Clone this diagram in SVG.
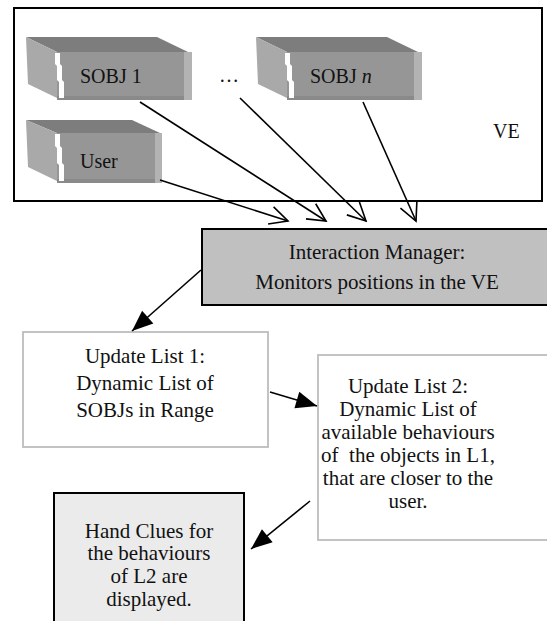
<svg xmlns="http://www.w3.org/2000/svg" width="547" height="621" viewBox="0 0 547 621" font-family="'Liberation Serif', 'DejaVu Serif', serif">
<defs>
<style>
text{font-family:'Liberation Serif','DejaVu Serif',serif;fill:#111;}
.t21{font-size:21px;text-anchor:middle;}
.t20{font-size:20px;}
.top{fill:#7d7d7d;}
.side{fill:#a9a9a9;}
.front{fill:#969696;}
.band{fill:#8a8a8a;}
.hl{fill:#ffffff;}
.rs{fill:#b3b3b3;}
.conn{stroke:#000;stroke-width:1.6;fill:none;}
</style>
<marker id="open" viewBox="-20 -10 22 20" refX="0" refY="0" markerWidth="22" markerHeight="20" markerUnits="userSpaceOnUse" orient="auto">
<path d="M-18,-9 L0,0 L-18,9" fill="none" stroke="#000" stroke-width="1.6"/>
</marker>
<marker id="solid" viewBox="-22 -10 23 20" refX="0" refY="0" markerWidth="23" markerHeight="20" markerUnits="userSpaceOnUse" orient="auto">
<path d="M-21,-8.5 L0,0 L-21,8.5 Z" fill="#000"/>
</marker>
<g id="slab">
<polygon class="top" points="26,37 157,37 188,52 57,52"/>
<polygon class="side" points="26,37 57,52 57,98 28,84"/>
<rect class="front" x="57" y="52" width="131" height="48"/>
<rect class="band" x="57" y="96" width="131" height="4"/>
<rect class="rs" x="184" y="52" width="8" height="48"/>
<polygon class="hl" points="55,53 60,53 60,64 62,66 62,80 64,82 64,98 59,98 59,82 57,80 57,66 55,64"/>
</g>
</defs>
<rect width="547" height="621" fill="#fff"/>

<g id="ve">
<rect x="14" y="8" width="528" height="193" fill="#fff" stroke="#000" stroke-width="2"/>
<text class="t20" x="493" y="138" font-size="19">VE</text>
<text class="t20" x="219" y="82" font-size="16">…</text>
</g>

<g id="sobj1">
<use href="#slab"/>
<text class="t20" x="80" y="83">SOBJ 1</text>
</g>

<g id="sobjn">
<use href="#slab" transform="translate(230,0)"/>
<text class="t20" x="310" y="83">SOBJ <tspan font-style="italic">n</tspan></text>
</g>

<g id="user">
<polygon class="top" points="26,120 132,120 160,133 57,133"/>
<polygon class="side" points="26,120 57,133 57,181 28,167"/>
<rect class="front" x="57" y="133" width="103" height="50"/>
<rect class="band" x="57" y="179" width="103" height="4"/>
<rect class="rs" x="155" y="133" width="7" height="50"/>
<polygon class="hl" points="55,134 60,134 60,146 62,148 62,163 64,165 64,181 59,181 59,165 57,163 57,148 55,146"/>
<text class="t20" x="80" y="168">User</text>
</g>

<g id="interaction-manager">
<rect x="202" y="229" width="352" height="76" fill="#c0c0c0" stroke="#000" stroke-width="2"/>
<text class="t21" x="377" y="259">Interaction Manager:</text>
<text class="t21" x="377" y="289">Monitors positions in the VE</text>
</g>

<g id="list1">
<rect x="23" y="332" width="245" height="115" fill="#fff" stroke="#bdbdbd" stroke-width="1.8"/>
<text class="t21" x="145" y="363">Update List 1:</text>
<text class="t21" x="145" y="390">Dynamic List of</text>
<text class="t21" x="145" y="417">SOBJs in Range</text>
</g>

<g id="list2">
<rect x="318" y="355" width="240" height="185" fill="#fff" stroke="#bdbdbd" stroke-width="1.8"/>
<text class="t21" x="408" y="393">Update List 2:</text>
<text class="t21" x="408" y="416">Dynamic List of</text>
<text class="t21" x="408" y="439">available behaviours</text>
<text class="t21" x="408" y="462" xml:space="preserve">of  the objects in L1,</text>
<text class="t21" x="408" y="485">that are closer to the</text>
<text class="t21" x="408" y="508">user.</text>
</g>

<g id="hand-clues">
<rect x="54" y="493" width="190" height="140" fill="#ebebeb" stroke="#000" stroke-width="2"/>
<text class="t21" x="149" y="538">Hand Clues for</text>
<text class="t21" x="149" y="560">the behaviours</text>
<text class="t21" x="149" y="583">of L2 are</text>
<text class="t21" x="149" y="606">displayed.</text>
</g>

<g id="connectors">
<line class="conn" x1="160" y1="180" x2="288" y2="221" marker-end="url(#open)"/>
<line class="conn" x1="140" y1="102" x2="326" y2="221" marker-end="url(#open)"/>
<line class="conn" x1="240" y1="98" x2="366" y2="221" marker-end="url(#open)"/>
<line class="conn" x1="363" y1="102" x2="416" y2="221" marker-end="url(#open)"/>
<line class="conn" x1="201" y1="270" x2="132" y2="331" marker-end="url(#solid)"/>
<line class="conn" x1="270" y1="392" x2="317" y2="406" marker-end="url(#solid)"/>
<line class="conn" x1="310" y1="501" x2="251" y2="549" marker-end="url(#solid)"/>
</g>
</svg>
